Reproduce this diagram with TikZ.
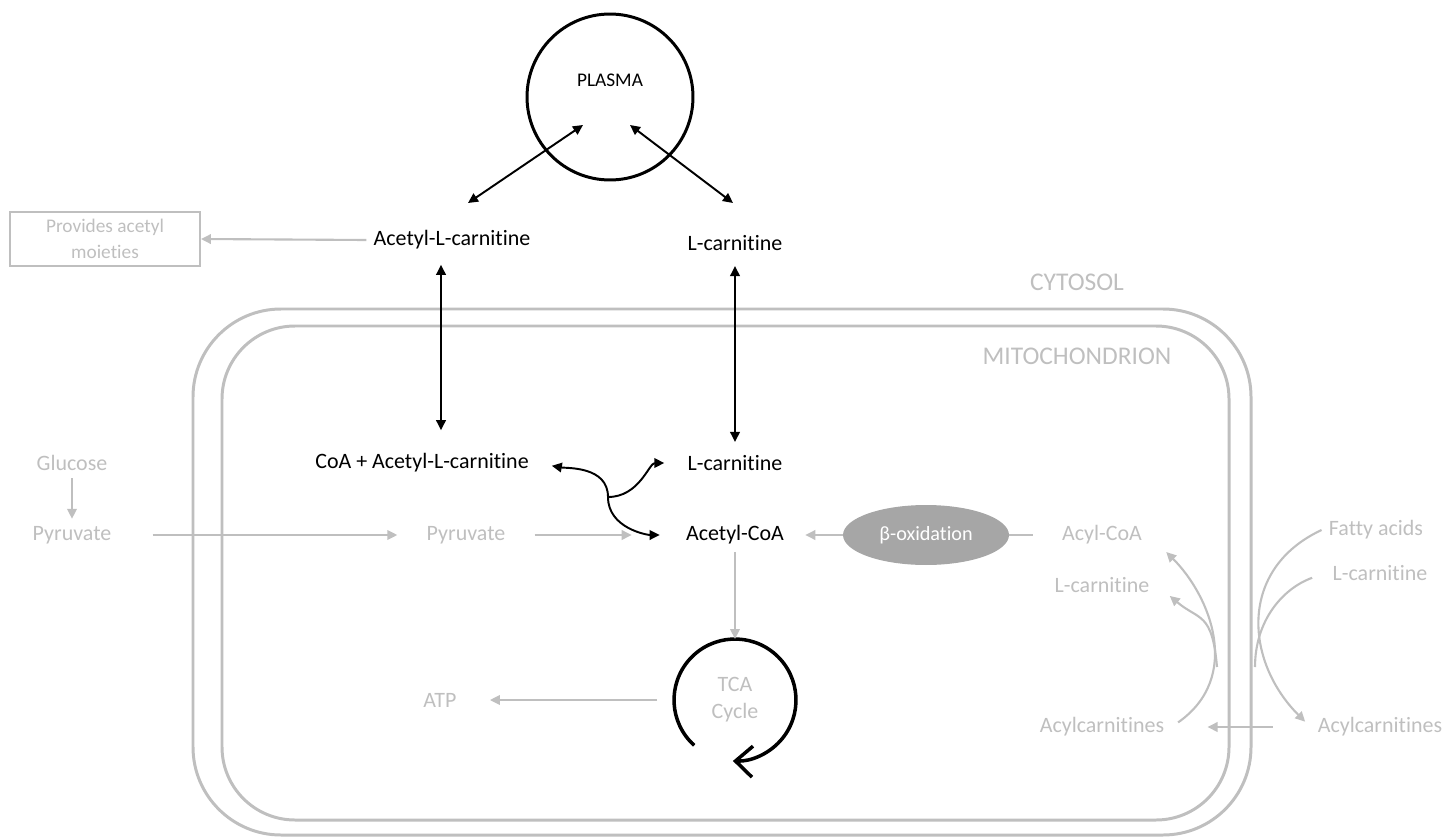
\documentclass[tikz,border=0pt]{standalone}
\usepackage{fontspec}
\setmainfont{Carlito}[Ligatures=NoCommon]
\usetikzlibrary{arrows.meta,shapes.geometric}
\definecolor{lightgrey}{HTML}{BFBFBF}
\definecolor{midgrey}{HTML}{A6A6A6}

\begin{document}
\begin{tikzpicture}[x=0.02cm, y=0.02cm,
  >={Triangle[length=2mm,width=1.9mm]},
  blk/.style={font=\fontsize{12.5}{15}\selectfont, inner sep=4pt},
  gry/.style={blk, text=lightgrey},
  area/.style={font=\fontsize{14.5}{17}\selectfont, text=lightgrey},
  bline/.style={draw=black, line width=1.1pt},
  gline/.style={draw=lightgrey, line width=1.2pt},
  wall/.style={draw=lightgrey, line width=1.7pt}]
\useasboundingbox (0,0) rectangle (1446,-838);

% membranes
\draw[wall, rounded corners=1.76cm] (193,-309) rectangle (1251,-835);
\draw[wall, rounded corners=1.46cm] (222,-326) rectangle (1229,-820);
\node[area] (cytosol) at (1077,-282) {CYTOSOL};
\node[area] (mito) at (1077,-356) {MITOCHONDRION};

% plasma
\node[circle, draw, line width=1.7pt, minimum size=3.32cm] (plasma) at (610,-97) {};
\node[font=\fontsize{11}{13}\selectfont] (plasmatxt) at (610,-80) {PLASMA};
\coordinate (pl1) at (583,-125);
\coordinate (pl2) at (630,-125);
\coordinate (acl1) at (468,-203);
\coordinate (lc1) at (733,-203);

% black labels
\node[blk] (acl) at (452,-240) {Acetyl-L-carnitine};
\node[blk] (lcarout) at (735,-243) {L-carnitine};
\node[blk] (coaacl) at (422,-463) {CoA + Acetyl-L-carnitine};
\node[blk] (lcarin) at (735,-463) {L-carnitine};
\node[blk] (acoa) at (735,-535) {Acetyl-CoA};

% grey labels
\node[gry, draw=lightgrey, line width=1.1pt, align=center, minimum width=3.8cm, minimum height=1.04cm, font=\fontsize{11}{14.5}\selectfont] (provides) at (105,-239) {Provides acetyl\\moieties};
\node[gry] (glucose) at (72,-463) {Glucose};
\node[gry] (pyrout) at (72,-535) {Pyruvate};
\node[gry] (pyrin) at (466,-535) {Pyruvate};
\node[ellipse, fill=midgrey, text=white, minimum width=3.32cm, minimum height=1.2cm, inner sep=0pt, outer sep=0pt, font=\fontsize{11.5}{14}\selectfont] (betaox) at (926,-535) {β-oxidation};
\node[gry] (acylcoa) at (1102,-535) {Acyl-CoA};
\node[gry] (lcarm) at (1102,-585) {L-carnitine};
\node[gry] (acylcin) at (1102,-727) {Acylcarnitines};
\node[gry] (fatty) at (1376,-530) {Fatty acids};
\node[gry] (lcarc) at (1380,-573) {L-carnitine};
\node[gry] (acylcout) at (1380,-727) {Acylcarnitines};
\node[gry] (atp) at (440,-700) {ATP};
\node[gry, circle, align=center, minimum size=2.44cm, inner sep=0pt, outer sep=0pt, font=\fontsize{12.5}{15.3}\selectfont] (tca) at (735,-700) {TCA\\Cycle};
\coordinate (jct) at (608,-497);
\coordinate (bfork) at (1217,-667);
\coordinate (dfork) at (1255,-667);

% black connectors
\draw[bline, <->] (pl1) -- (acl1);
\draw[bline, <->] (pl2) -- (lc1);
\draw[bline, <->, shorten <=0.16cm, shorten >=0.32cm] ([xshift=-0.22cm]acl.south) -- ([xshift=0.38cm]coaacl.north);
\draw[bline, <->, shorten <=0.16cm, shorten >=0.12cm] (lcarout) -- (lcarin);
\draw[bline, <->, shorten <=0.32cm, shorten >=0.38cm] (coaacl.east) to[out=-10,in=90] (jct) to[out=-90,in=180] (acoa.west);
\draw[bline, ->, shorten >=0.32cm] (jct) to[out=0,in=180] (lcarin.west);
\draw[line width=2pt, -{Straight Barb[length=0.34cm,width=0.62cm]}] (tca.228) arc[start angle=228, end angle=-92, radius=1.22cm];

% grey connectors
\draw[gline, ->] (acl.west) -- (provides.east);
\draw[gline, ->] (glucose) -- (pyrout);
\draw[gline, ->, shorten <=0.68cm, shorten >=0.44cm] (pyrout) -- (pyrin);
\draw[gline, ->, shorten <=0.44cm, shorten >=0.94cm] (pyrin) -- (acoa);
\draw[gline, ->, shorten >=0.28cm] (betaox) -- (acoa);
\draw[gline, shorten <=0.44cm] (acylcoa) -- (betaox);
\draw[gline, ->] (acoa) -- (tca);
\draw[gline, ->, shorten <=0.34cm, shorten >=0.52cm] (tca) -- (atp);
\draw[gline, ->, shorten <=0.16cm, shorten >=0.48cm] (acylcin.east) to[out=35,in=-45,looseness=1.15] (acylcoa.east);
\draw[gline, ->, shorten >=0.34cm] (bfork) to[out=95,in=-40,looseness=1.4] (lcarm.east);
\draw[gline, ->, shorten >=0.15cm] (fatty.west) to[out=205,in=135,looseness=1.2] (acylcout.west);
\draw[gline, shorten <=0.28cm] (lcarc.west) to[out=200,in=90] (dfork);
\draw[gline, ->, shorten <=0.76cm, shorten >=0.72cm] (acylcout.west) -- (acylcin.east);

\end{tikzpicture}
\end{document}
